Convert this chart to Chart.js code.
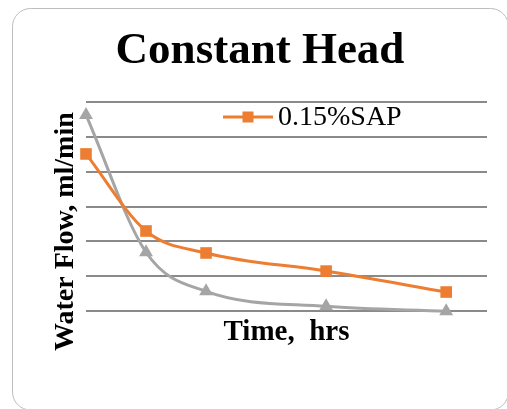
<!DOCTYPE html>
<html>
<head>
<meta charset="utf-8">
<script src="https://cdn.jsdelivr.net/npm/chart.js@4.4.1/dist/chart.umd.min.js"></script>
<style>
  html, body { margin: 0; padding: 0; background: #fff; }
  #wrap { width: 507px; height: 409px; }
</style>
</head>
<body>
<div id="wrap"><canvas id="c" width="507" height="409"></canvas></div>
<script>
// values (y in ml/min, grid step 1)
const times = [0, 1, 2, 4, 6];
const sap015 = [4.51, 2.30, 1.67, 1.15, 0.55];
const control = [5.63, 1.69, 0.57, 0.14, 0.0];

const yTitle = 'Water Flow, ml/min';
const xTitle = 'Time,  hrs';

const ORANGE = '#ED7D31';
const GREY = '#A5A5A5';
const SERIF = '"Liberation Serif", "Times New Roman", serif';

const toPoints = (ys) => times.map((t, i) => ({ x: t, y: ys[i] }));

// rounded frame round the whole chart (right and bottom run off the picture)
const framePlugin = {
  id: 'frame',
  beforeDraw(chart) {
    const ctx = chart.ctx;
    ctx.save();
    ctx.strokeStyle = '#bdbdbd';
    ctx.lineWidth = 1;
    ctx.beginPath();
    ctx.roundRect(12.5, 8.5, 496, 401.5, 18);
    ctx.stroke();
    ctx.restore();
  }
};

// y title sits lower than the plot middle in the original, so draw it here
const yTitlePlugin = {
  id: 'yTitle',
  afterDraw(chart) {
    const ctx = chart.ctx;
    const a = chart.chartArea;
    ctx.save();
    ctx.translate(a.left - 20, (a.top + a.bottom) / 2 + 25);
    ctx.rotate(-Math.PI / 2);
    ctx.fillStyle = '#000';
    ctx.font = 'bold 28px ' + SERIF;
    ctx.textAlign = 'center';
    ctx.textBaseline = 'middle';
    ctx.fillText(yTitle, 0, 0);
    ctx.restore();
  }
};

// Excel-like legend: line with square marker, for the orange series only
const legendPlugin = {
  id: 'lineLegend',
  afterDatasetsDraw(chart) {
    const ctx = chart.ctx;
    const a = chart.chartArea;
    const x0 = a.left + 137;
    const y0 = a.top + 15;
    ctx.save();
    ctx.strokeStyle = ORANGE;
    ctx.lineWidth = 3;
    ctx.beginPath();
    ctx.moveTo(x0, y0);
    ctx.lineTo(x0 + 50, y0);
    ctx.stroke();
    ctx.fillStyle = ORANGE;
    ctx.fillRect(x0 + 25 - 5.5, y0 - 5.5, 11, 11);
    ctx.fillStyle = '#000';
    ctx.font = '28px ' + SERIF;
    ctx.textBaseline = 'middle';
    ctx.fillText(chart.data.datasets[0].label, x0 + 55, y0 + 1);
    ctx.restore();
  }
};

new Chart(document.getElementById('c'), {
  type: 'line',
  data: {
    datasets: [
      {
        label: '0.15%SAP',
        data: toPoints(sap015),
        borderColor: ORANGE,
        backgroundColor: ORANGE,
        borderWidth: 3,
        pointStyle: 'rect',
        pointRadius: 8.2,
        pointBorderWidth: 0,
        cubicInterpolationMode: 'monotone',
        clip: false
      },
      {
        label: 'Control',
        data: toPoints(control),
        borderColor: GREY,
        backgroundColor: GREY,
        borderWidth: 3,
        pointStyle: 'triangle',
        pointRadius: 8,
        pointBorderWidth: 0,
        cubicInterpolationMode: 'monotone',
        clip: false
      }
    ]
  },
  options: {
    responsive: false,
    animation: false,
    layout: { padding: { left: 33, right: 20, top: 0, bottom: 59 } },
    plugins: {
      legend: { display: false },
      tooltip: { enabled: false },
      title: {
        display: true,
        text: 'Constant Head',
        color: '#000',
        font: { family: SERIF, size: 45, weight: 'bold', lineHeight: 1.2 },
        padding: { top: 24.5, bottom: 23.5 }
      }
    },
    scales: {
      x: {
        type: 'linear',
        min: 0,
        max: 6.68,
        grid: { display: false, drawTicks: false },
        border: { display: false },
        ticks: { display: false },
        title: {
          display: true,
          text: xTitle,
          color: '#000',
          font: { family: SERIF, size: 29, weight: 'bold', lineHeight: 1.2 },
          padding: { top: 4, bottom: 0 }
        }
      },
      y: {
        min: 0,
        max: 6,
        ticks: { display: false, stepSize: 1 },
        grid: { color: '#8a8a8a', lineWidth: 2, drawTicks: false },
        border: { display: false },
        afterFit(scale) { scale.width = 53; }
      }
    }
  },
  plugins: [framePlugin, yTitlePlugin, legendPlugin]
});
</script>
</body>
</html>
